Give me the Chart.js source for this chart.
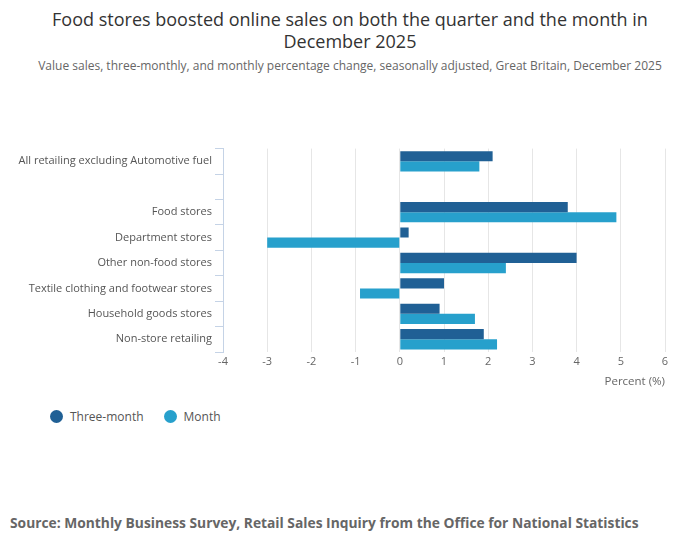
<!DOCTYPE html>
<html><head><meta charset="utf-8">
<script src="https://cdn.jsdelivr.net/npm/chart.js@4"></script>
<style>
body{margin:0;width:700px;height:549px;background:#fff;font-family:"Open Sans",sans-serif;position:relative;overflow:hidden}
#t{position:absolute;top:8px;left:0;width:700px;text-align:center;font-size:18px;color:#333;line-height:22px}
#s{position:absolute;top:57px;left:0;width:700px;text-align:center;font-size:12px;color:#666;padding-left:0px;box-sizing:border-box}
#c{position:absolute;top:139px;left:0;width:700px;height:254px}
#l{position:absolute;top:408px;left:50px;font-size:12px;color:#555}
#l span{display:inline-flex;align-items:center;margin-right:20px}
#l i{display:inline-block;width:13px;height:13px;border-radius:50%;margin-right:7px}
#src{position:absolute;top:513px;left:10px;font-size:13.8px;font-weight:bold;color:#666}
</style></head><body>
<div id="t">Food stores boosted online sales on both the quarter and the month in<br>December 2025</div>
<div id="s">Value sales, three-monthly, and monthly percentage change, seasonally adjusted, Great Britain, December 2025</div>
<div id="c"><canvas id="cv"></canvas></div>
<div id="l"><span><i style="background:#206095"></i>Three-month</span><span><i style="background:#27a0cc"></i>Month</span></div>
<div id="src">Source: Monthly Business Survey, Retail Sales Inquiry from the Office for National Statistics</div>
<script>
const categories=["All retailing excluding Automotive fuel","","Food stores","Department stores","Other non-food stores","Textile clothing and footwear stores","Household goods stores","Non-store retailing"];
const threeMonth=[2.1,null,3.8,0.2,4.0,1.0,0.9,1.9];
const month=[1.8,null,4.9,-3.0,2.4,-0.9,1.7,2.2];
new Chart(document.getElementById('cv'),{type:'bar',
data:{labels:categories,datasets:[
{label:'Three-month',data:threeMonth,backgroundColor:'#206095',categoryPercentage:0.8,barPercentage:1},
{label:'Month',data:month,backgroundColor:'#27a0cc',categoryPercentage:0.8,barPercentage:1}]},
options:{indexAxis:'y',responsive:true,maintainAspectRatio:false,animation:false,
layout:{padding:{left:5,right:35,top:5}},
plugins:{legend:{display:false},tooltip:{enabled:false}},
scales:{x:{min:-4,max:6,ticks:{stepSize:1,color:'#666',font:{size:11,family:'Open Sans'}},
grid:{color:'#e6e6e6',drawTicks:false},border:{display:false},
title:{display:true,text:'Percent (%)',align:'end',color:'#666',font:{size:11.5,family:'Open Sans'}}},
y:{afterFit:s=>{s.width=218},ticks:{color:'#555',font:{size:11,family:'Open Sans'}},grid:{display:true,offset:true,drawOnChartArea:false,color:'#c5d3e6',tickLength:8},border:{color:'#c5d3e6'}}}}});
</script></body></html>
